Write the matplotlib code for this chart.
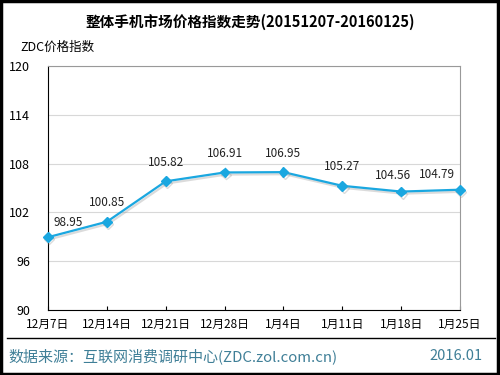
import matplotlib.pyplot as plt
import matplotlib.patheffects as pe
from matplotlib.patches import Rectangle
from matplotlib.lines import Line2D

plt.rcParams['font.family'] = ['Noto Sans CJK SC', 'DejaVu Sans']

# 数据
dates = ["12月7日", "12月14日", "12月21日", "12月28日", "1月4日", "1月11日", "1月18日", "1月25日"]
index_vals = [98.95, 100.85, 105.82, 106.91, 106.95, 105.27, 104.56, 104.79]
yticks = [90, 96, 102, 108, 114, 120]

W, H = 500, 375
fig = plt.figure(figsize=(W / 100, H / 100), dpi=100)
ax = fig.add_axes([48 / W, 1 - 310 / H, (460 - 48) / W, (310 - 66) / H])

x = list(range(len(dates)))
ax.plot(x, index_vals, color="#1aa7e0", lw=1.6, marker="D", ms=5, mec="#1aa7e0",
        zorder=3, clip_on=False,
        path_effects=[pe.SimpleLineShadow(offset=(1, -1.5), shadow_color="#999999", alpha=0.35),
                      pe.Normal()])
n = len(x)
for xi, v in zip(x, index_vals):
    if xi == 0:
        off, ha = (4, 6), "left"
    elif xi == n - 1:
        off, ha = (-4, 6), "right"
    elif xi == n - 2:
        off, ha = (-6, 7), "center"
    else:
        off, ha = (0, 9), "center"
    ax.annotate(f"{v:.2f}", (xi, v), xytext=off, textcoords="offset points",
                ha=ha, va="bottom", fontsize=8.5, color="#222222")

ax.set_xlim(0, n - 1)
ax.set_ylim(90, 120)
ax.set_yticks(yticks)
ax.set_xticks(x)
ax.set_xticklabels(dates, fontsize=8.5)
ax.tick_params(axis="y", length=0, labelsize=9, pad=13)
ax.tick_params(axis="x", length=3, direction="in", pad=6)
ax.grid(axis="y", color="#d8d8d8", lw=0.8)
ax.set_axisbelow(True)
for s in ["top", "right"]:
    ax.spines[s].set_color("#999999")
for s in ["left", "bottom"]:
    ax.spines[s].set_color("#000000")

fig.text(0.5, 1 - 22 / H, "整体手机市场价格指数走势(20151207-20160125)",
         ha="center", va="center", fontsize=10.5, fontweight="bold")
fig.text(20 / W, 1 - 47 / H, "ZDC价格指数", ha="left", va="center", fontsize=9)

fig.add_artist(Line2D([7 / W, 495 / W], [1 - 338 / H, 1 - 338 / H], color="black", lw=1))
fig.text(8 / W, 1 - 356 / H, "数据来源：互联网消费调研中心(ZDC.zol.com.cn)",
         ha="left", va="center", fontsize=10.8, color="#3f7f97")
fig.text(483 / W, 1 - 356 / H, "2016.01", ha="right", va="center", fontsize=10.5, color="#3f7f97")

fig.add_artist(Rectangle((0.002, 0.003), 0.993, 0.994, transform=fig.transFigure,
                         fill=False, ec="black", lw=2.5))

fig.savefig("out.png", dpi=100)
